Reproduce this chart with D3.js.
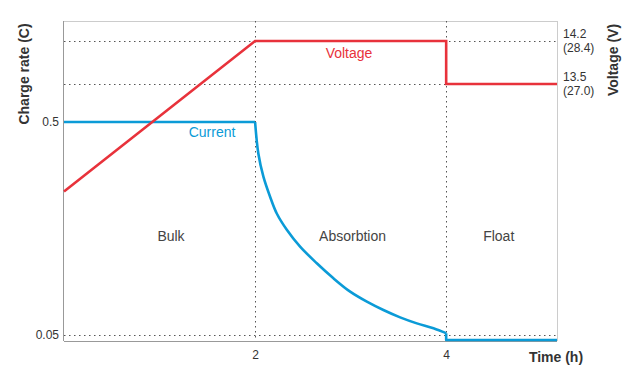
<!DOCTYPE html>
<html><head><meta charset="utf-8">
<script src="https://cdn.jsdelivr.net/npm/d3@7"></script>
<style>body{margin:0;background:#fff}svg{display:block;font-family:"Liberation Sans",Arial,sans-serif}</style>
</head><body>
<svg id="c" width="640" height="382"></svg>
<script>
// Data
const timeTicks = [2, 4];
const currentTicks = [0.05, 0.5];
const voltageTicks = [14.2, 13.5];
const voltageTickAlt = ["(28.4)", "(27.0)"];
const voltageTime = [0, 2, 4, 4, 5.16];
const voltageValue = [11.75, 14.2, 14.2, 13.5, 13.5];
const bulkTime = [0, 2];
const bulkCurrent = [0.5, 0.5];
const absorbTime = [2, 2.034, 2.087, 2.157, 2.227, 2.332, 2.471, 2.646, 2.82, 2.995, 3.17, 3.343, 3.518, 3.693, 3.867, 4];
const absorbCurrent = [0.5, 0.356, 0.277, 0.223, 0.186, 0.156, 0.13, 0.1086, 0.0923, 0.0799, 0.0717, 0.0655, 0.0605, 0.0567, 0.0538, 0.051];
const floatTime = [4, 4, 5.16];
const floatCurrent = [0.051, 0.0474, 0.0474];
const phaseNames = ["Bulk", "Absorbtion", "Float"];
const phaseCenters = [1.12, 3.02, 4.55];

const svg = d3.select("#c");
const x = d3.scaleLinear().domain([0, 5.16]).range([64, 557]);
const yC = d3.scaleLog().domain([0.05, 0.5]).range([335, 122]);
const yV = d3.scaleLinear().domain([13.5, 14.2]).range([84, 41]);
const pTop = 21, pBottom = 341, pLeft = 64, pRight = 557;
const red = "#e8323b", blue = "#0b9bd7", txt = "#333";

// frame
svg.append("line").attr("x1", pLeft).attr("x2", pRight).attr("y1", pTop + .5).attr("y2", pTop + .5).attr("stroke", "#ccc");
svg.append("line").attr("x1", pRight + .5).attr("x2", pRight + .5).attr("y1", pTop).attr("y2", pBottom).attr("stroke", "#ccc");

// dotted grid
function dl(x1, y1, x2, y2) {
  svg.append("line").attr("x1", x1).attr("y1", y1).attr("x2", x2).attr("y2", y2)
    .attr("stroke", "#555").attr("stroke-dasharray", "1.5,3.5").attr("stroke-width", 1);
}
voltageTicks.forEach(v => dl(pLeft, Math.round(yV(v)) + .5, pRight, Math.round(yV(v)) + .5));
dl(pLeft, Math.round(yC(0.05)) + .5, pRight, Math.round(yC(0.05)) + .5);
timeTicks.forEach(t => dl(Math.round(x(t)) + .5, pTop, Math.round(x(t)) + .5, pBottom));

// axes
const xAxis = d3.axisBottom(x).tickValues(timeTicks).tickSize(0).tickPadding(9).tickFormat(d3.format("d"));
const gx = svg.append("g").attr("transform", `translate(0,${pBottom})`).call(xAxis);
gx.select(".domain").attr("stroke", "#999").attr("d", `M${pLeft},0.5H${pRight}`);
gx.selectAll("text").attr("font-size", 12).attr("fill", txt).style("font-family", "Liberation Sans, Arial, sans-serif");

const yAxis = d3.axisLeft(yC).tickValues(currentTicks).tickSize(0).tickPadding(5).tickFormat(d => String(d));
const gy = svg.append("g").attr("transform", `translate(${pLeft},0)`).call(yAxis);
gy.select(".domain").attr("stroke", "#999").attr("d", `M-0.5,${pTop}V${pBottom}`);
gy.selectAll("text").attr("font-size", 12).attr("fill", txt).style("font-family", "Liberation Sans, Arial, sans-serif");

// right voltage labels
voltageTicks.forEach((v, i) => {
  const t = svg.append("text").attr("x", 563).attr("y", yV(v) - 3).attr("font-size", 12).attr("fill", txt);
  t.append("tspan").attr("x", 563).text(v.toFixed(1));
  t.append("tspan").attr("x", 563).attr("dy", 14).text(voltageTickAlt[i]);
});

// axis titles
svg.append("text").attr("transform", "translate(29,74) rotate(-90)").attr("text-anchor", "middle")
  .attr("font-size", 14).attr("font-weight", "bold").attr("fill", txt).text("Charge rate (C)");
svg.append("text").attr("transform", "translate(618,60) rotate(-90)").attr("text-anchor", "middle")
  .attr("font-size", 14).attr("font-weight", "bold").attr("fill", txt).text("Voltage (V)");
svg.append("text").attr("x", 556).attr("y", 362).attr("text-anchor", "middle")
  .attr("font-size", 14).attr("font-weight", "bold").attr("fill", txt).text("Time (h)");

// lines
const zip = (a, b) => a.map((t, i) => [t, b[i]]);
const lineC = d3.line().x(d => x(d[0])).y(d => yC(d[1]));
const lineCs = d3.line().x(d => x(d[0])).y(d => yC(d[1])).curve(d3.curveCatmullRom.alpha(0.5));
const cStyle = p => p.attr("fill", "none").attr("stroke", blue).attr("stroke-width", 2.6).attr("stroke-linejoin", "round");
cStyle(svg.append("path").attr("d", lineC(zip(bulkTime, bulkCurrent))));
cStyle(svg.append("path").attr("d", lineCs(zip(absorbTime, absorbCurrent))));
cStyle(svg.append("path").attr("d", lineC(zip(floatTime, floatCurrent))));
svg.append("path").datum(zip(voltageTime, voltageValue)).attr("fill", "none").attr("stroke", red).attr("stroke-width", 2.6)
  .attr("d", d3.line().x(d => x(d[0])).y(d => yV(d[1])));

// labels
svg.append("text").attr("x", 349).attr("y", 58).attr("text-anchor", "middle").attr("font-size", 14).attr("fill", red).text("Voltage");
svg.append("text").attr("x", 212).attr("y", 137).attr("text-anchor", "middle").attr("font-size", 14).attr("fill", blue).text("Current");
phaseNames.forEach((n, i) => svg.append("text").attr("x", x(phaseCenters[i])).attr("y", 241)
  .attr("text-anchor", "middle").attr("font-size", 14).attr("fill", "#444").text(n));
</script>
</body></html>
